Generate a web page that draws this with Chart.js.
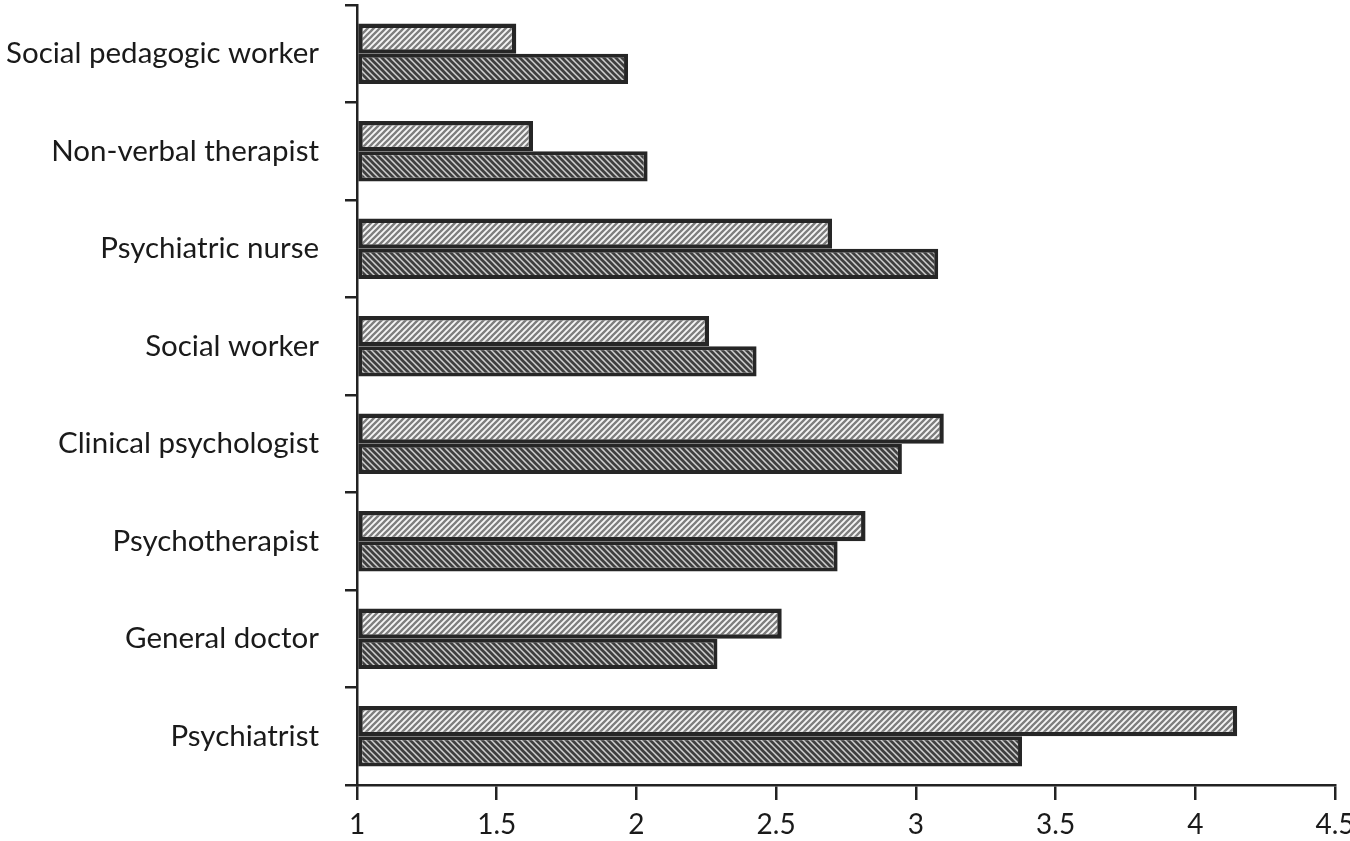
<!DOCTYPE html>
<html>
<head>
<meta charset="utf-8">
<script src="https://cdn.jsdelivr.net/npm/chart.js@4/dist/chart.umd.min.js"></script>
<style>
  html, body { margin: 0; padding: 0; background: #fff; }
  #wrap { width: 1350px; height: 841px; }
</style>
</head>
<body>
<div id="wrap"><canvas id="c" width="1350" height="841"></canvas></div>
<script>
const categories = [
  'Social pedagogic worker',
  'Non-verbal therapist',
  'Psychiatric nurse',
  'Social worker',
  'Clinical psychologist',
  'Psychotherapist',
  'General doctor',
  'Psychiatrist'
];
const seriesLight = [1.57, 1.63, 2.70, 2.26, 3.10, 2.82, 2.52, 4.15];
const seriesDark  = [1.97, 2.04, 3.08, 2.43, 2.95, 2.72, 2.29, 3.38];
const xTickLabels = ['1', '1.5', '2', '2.5', '3', '3.5', '4', '4.5'];

function makePattern(bg, fg, dir, lw) {
  const s = 6;
  const c = document.createElement('canvas');
  c.width = s; c.height = s;
  const g = c.getContext('2d');
  g.fillStyle = bg; g.fillRect(0, 0, s, s);
  g.strokeStyle = fg; g.lineWidth = lw; g.lineCap = 'square';
  g.beginPath();
  if (dir === '/') {
    g.moveTo(0, s); g.lineTo(s, 0);
    g.moveTo(-1, 1); g.lineTo(1, -1);
    g.moveTo(s - 1, s + 1); g.lineTo(s + 1, s - 1);
  } else {
    g.moveTo(0, 0); g.lineTo(s, s);
    g.moveTo(-1, s - 1); g.lineTo(1, s + 1);
    g.moveTo(s - 1, -1); g.lineTo(s + 1, 1);
  }
  g.stroke();
  return document.getElementById('c').getContext('2d').createPattern(c, 'repeat');
}

const lightPattern = makePattern('#f6f6f6', '#7e7e7e', '/', 2.3);
const darkPattern = makePattern('#cfcfcf', '#404040', '\\', 2.7);

const FONT = 'Lato, "Open Sans", sans-serif';

new Chart(document.getElementById('c'), {
  type: 'bar',
  data: {
    labels: categories,
    datasets: [
      { data: seriesLight, base: 1, backgroundColor: lightPattern, borderColor: '#262626', borderWidth: 4.5, borderSkipped: false },
      { data: seriesDark, base: 1, backgroundColor: darkPattern, borderColor: '#262626', borderWidth: 4, borderSkipped: false }
    ]
  },
  options: {
    indexAxis: 'y',
    responsive: false,
    animation: false,
    devicePixelRatio: 1,
    layout: { padding: { top: 5, right: 15, left: 0, bottom: 0 } },
    datasets: { bar: { categoryPercentage: 0.62, barPercentage: 1.0 } },
    plugins: { legend: { display: false }, tooltip: { enabled: false } },
    scales: {
      x: {
        type: 'linear',
        min: 1, max: 4.5,
        border: { display: true, color: '#222', width: 2.5 },
        grid: { display: true, drawOnChartArea: false, drawTicks: true, tickLength: 15, color: '#222', lineWidth: 2.5 },
        ticks: {
          stepSize: 0.5,
          color: '#1a1a1a',
          font: { family: FONT, size: 28 },
          padding: 8,
          maxRotation: 0,
          callback: function (v, i) { return xTickLabels[i]; }
        },
        afterFit: function (s) { s.height = 56; s.paddingRight = 0; s.paddingLeft = 0; }
      },
      y: {
        border: { display: true, color: '#222', width: 2.5 },
        grid: { display: true, drawOnChartArea: false, drawTicks: true, tickLength: 12, color: '#222', lineWidth: 2.5, offset: true },
        ticks: {
          color: '#1a1a1a',
          font: { family: FONT, size: 29.5 },
          padding: 26
        },
        afterFit: function (s) { s.width = 357; s.paddingTop = 0; s.paddingBottom = 0; }
      }
    }
  }
});
</script>
</body>
</html>
